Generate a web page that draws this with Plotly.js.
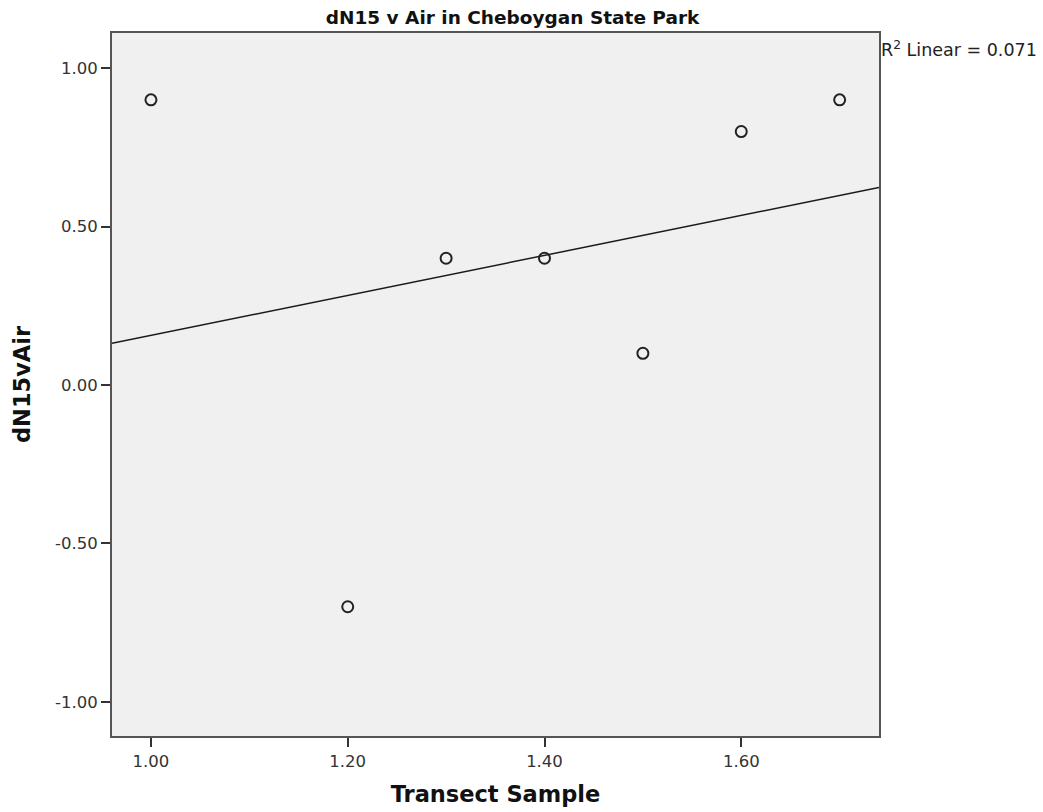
<!DOCTYPE html>
<html>
<head>
<meta charset="utf-8">
<script src="https://cdn.plot.ly/plotly-3.0.1.min.js"></script>
<style>html,body{margin:0;padding:0;background:#fff;}#chart{width:1043px;height:812px;}</style>
</head>
<body>
<div id="chart"></div>
<script>
const transectSample = [1.0, 1.2, 1.3, 1.4, 1.5, 1.6, 1.7];
const dN15vAir = [0.9, -0.7, 0.4, 0.4, 0.1, 0.8, 0.9];
const xTickVals = [1.0, 1.2, 1.4, 1.6];
const xTickText = ['1.00', '1.20', '1.40', '1.60'];
const yTickVals = [-1.0, -0.5, 0.0, 0.5, 1.0];
const yTickText = ['-1.00', '-0.50', '0.00', '0.50', '1.00'];
const xRange = [0.9604, 1.740];
const yRange = [-1.108, 1.111];

// least-squares fit
const n = transectSample.length;
const mx = transectSample.reduce((a, b) => a + b, 0) / n;
const my = dN15vAir.reduce((a, b) => a + b, 0) / n;
let sxx = 0, sxy = 0, syy = 0;
for (let i = 0; i < n; i++) {
  const dx = transectSample[i] - mx, dy = dN15vAir[i] - my;
  sxx += dx * dx; sxy += dx * dy; syy += dy * dy;
}
const slope = sxy / sxx;
const intercept = my - slope * mx;
const r2 = (sxy * sxy) / (sxx * syy);
const fitX = [xRange[0], xRange[1]];
const fitY = fitX.map(x => intercept + slope * x);

const font = "DejaVu Sans, Verdana, sans-serif";

const traces = [
  {
    x: fitX, y: fitY, mode: 'lines', type: 'scatter',
    line: {color: '#1a1a1a', width: 1.5}, hoverinfo: 'skip', showlegend: false
  },
  {
    x: transectSample, y: dN15vAir, mode: 'markers', type: 'scatter',
    marker: {symbol: 'circle-open', size: 11, color: '#222', line: {width: 2, color: '#222'}},
    showlegend: false
  }
];

const layout = {
  width: 1043, height: 812,
  margin: {l: 112, r: 163.5, t: 33, b: 76, pad: 0},
  paper_bgcolor: '#ffffff',
  plot_bgcolor: '#f0f0f0',
  font: {family: font, color: '#222'},
  title: {
    text: '<b>dN15 v Air in Cheboygan State Park</b>',
    font: {family: font, size: 18.5, color: '#111'},
    x: 512.5 / 1043, xanchor: 'center', xref: 'container',
    y: 1 - 18 / 812, yanchor: 'middle', yref: 'container'
  },
  xaxis: {
    range: xRange, tickvals: xTickVals, ticktext: xTickText,
    showgrid: false, zeroline: false,
    showline: true, linecolor: '#555', linewidth: 2, mirror: true,
    ticks: 'outside', ticklen: 9, tickwidth: 2, tickcolor: '#333',
    tickfont: {family: font, size: 16.5, color: '#333'},
    title: {text: '<b>Transect Sample</b>', font: {family: font, size: 22.5, color: '#111'}, standoff: 16}
  },
  yaxis: {
    range: yRange, tickvals: yTickVals, ticktext: yTickText,
    showgrid: false, zeroline: false,
    showline: true, linecolor: '#555', linewidth: 2, mirror: true,
    ticks: 'outside', ticklen: 9, tickwidth: 2, tickcolor: '#333',
    tickfont: {family: font, size: 16.5, color: '#333'},
    title: {text: '<b>dN15vAir</b>', font: {family: font, size: 22.5, color: '#111'}, standoff: 18}
  },
  annotations: [{
    text: 'R<sup>2</sup> Linear = ' + r2.toFixed(3),
    xref: 'paper', yref: 'paper', x: 1, y: 1,
    xanchor: 'left', yanchor: 'top', xshift: 0, yshift: -3,
    showarrow: false, font: {family: font, size: 17.5, color: '#222'}
  }]
};

Plotly.newPlot('chart', traces, layout, {displayModeBar: false, staticPlot: true});
</script>
</body>
</html>
